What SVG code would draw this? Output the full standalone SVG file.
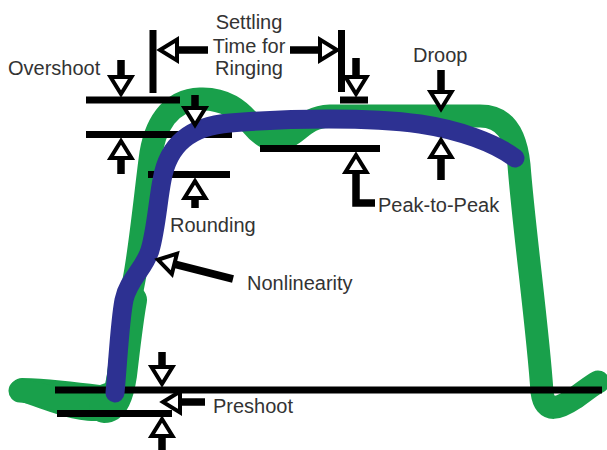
<svg xmlns="http://www.w3.org/2000/svg" xmlns:xlink="http://www.w3.org/1999/xlink" width="607" height="450" viewBox="0 0 607 450">
  <style>
    .lbl { font-family: "Liberation Sans", Arial, sans-serif; font-size: 20px; fill: #333; }
    .bar { stroke: #000; stroke-width: 7; fill: none; }
    .shaft { stroke: #000; stroke-width: 7.5; fill: none; }
    .head { fill: #fff; stroke: #000; stroke-width: 4; stroke-linejoin: miter; }
    .green { fill: none; stroke: #19a04b; stroke-width: 23; stroke-linecap: round; stroke-linejoin: round; }
    .green-fill { fill: #19a04b; stroke: none; }
    .blue { fill: none; stroke: #2d3192; stroke-width: 19; stroke-linecap: round; stroke-linejoin: round; }
  </style>
  <defs>
    <!-- open arrowhead, tip at origin, pointing down -->
    <polygon id="tri" points="0,-3 -10.5,-20 10.5,-20"/>
  </defs>
  <rect width="607" height="450" fill="#fff"/>

  <!-- ideal pulse trace -->
  <g id="ideal-pulse">
    <path class="green-fill" d="M 22,378 C 45,378 75,382 100,385 L 136,372 L 124,402 C 118,415 110,421 95,421 C 75,421 55,414 22,402 A 12,12 0 0 1 22,378 Z"/>
    <path class="green" d="M 20,391 C 45,392 75,408 100,408 C 112,408 116,395 118,380 C 122,350 128,310 134,280 C 140,250 146,190 150,160 C 154,125 170,100 200,99 C 225,98 240,110 252,125 C 262,137 270,142 285,138 C 300,132 305,117 330,116 L 480,116 C 505,116 516,135 519,165 C 524,230 538,330 542,392 C 545,415 560,408 575,398 C 585,391 592,385 598,382"/>
    <path class="green" style="stroke-width:30" d="M 104,408 C 114,408 119,395 122,375 C 125,350 128,322 132,300"/>
  </g>

  <!-- reference lines -->
  <g id="connectors">
    <line class="bar" x1="153" y1="30" x2="153" y2="93"/>
    <line class="bar" x1="341.5" y1="30" x2="341.5" y2="92"/>
    <line class="bar" x1="86" y1="100" x2="180" y2="100"/>
    <line class="bar" x1="86" y1="134.5" x2="232" y2="134.5"/>
    <line class="bar" x1="148" y1="174.5" x2="230" y2="174.5"/>
    <line class="bar" x1="340" y1="100" x2="368" y2="100"/>
    <line class="bar" x1="260" y1="148.5" x2="380" y2="148.5"/>
    <line class="bar" x1="55" y1="390" x2="602" y2="390"/>
    <line class="bar" x1="57" y1="413.5" x2="172" y2="413.5"/>
  </g>

  <!-- real pulse trace -->
  <g id="real-pulse">
    <path class="blue" d="M 115,393 C 118,360 120,320 124,300 C 128,280 145,268 150,250 C 156,230 158,200 162,180 C 168,145 190,126 230,123 C 290,118 370,117 420,124 C 460,130 495,143 515,158"/>
  </g>

  <!-- overshoot -->
  <g id="overshoot">
    <line class="shaft" x1="121" y1="60" x2="121" y2="78"/>
    <use xlink:href="#tri" class="head" transform="translate(121,97)"/>
    <line class="shaft" x1="121" y1="155" x2="121" y2="174"/>
    <use xlink:href="#tri" class="head" transform="translate(121,138) rotate(180)"/>
    <text class="lbl" x="8" y="75">Overshoot</text>
  </g>

  <!-- settling time -->
  <g id="settling">
    <line class="shaft" x1="173" y1="50" x2="208" y2="50"/>
    <use xlink:href="#tri" class="head" transform="translate(157,50) rotate(90)"/>
    <line class="shaft" x1="290" y1="50" x2="324" y2="50"/>
    <use xlink:href="#tri" class="head" transform="translate(340,50) rotate(-90)"/>
    <line class="shaft" x1="195" y1="95" x2="195" y2="112"/>
    <use xlink:href="#tri" class="head" transform="translate(195,128)"/>
    <line class="shaft" x1="356" y1="58" x2="356" y2="80"/>
    <use xlink:href="#tri" class="head" transform="translate(356,97)"/>
    <text class="lbl" text-anchor="middle" x="249" y="29">Settling</text>
    <text class="lbl" text-anchor="middle" x="249" y="52.5">Time for</text>
    <text class="lbl" text-anchor="middle" x="249" y="75">Ringing</text>
  </g>

  <!-- rounding -->
  <g id="rounding">
    <line class="shaft" x1="195" y1="192" x2="195" y2="208"/>
    <use xlink:href="#tri" class="head" transform="translate(195,178) rotate(180)"/>
    <text class="lbl" x="170" y="232">Rounding</text>
  </g>

  <!-- peak-to-peak -->
  <g id="peak-to-peak">
    <polyline class="shaft" points="356,168 356,203 375,203"/>
    <use xlink:href="#tri" class="head" transform="translate(356,152) rotate(180)"/>
    <text class="lbl" x="378" y="212">Peak-to-Peak</text>
  </g>

  <!-- droop -->
  <g id="droop">
    <line class="shaft" x1="441" y1="70" x2="441" y2="95"/>
    <use xlink:href="#tri" class="head" transform="translate(441,112)"/>
    <line class="shaft" x1="441" y1="154" x2="441" y2="180"/>
    <use xlink:href="#tri" class="head" transform="translate(441,137) rotate(180)"/>
    <text class="lbl" x="413" y="62">Droop</text>
  </g>

  <!-- nonlinearity -->
  <g id="nonlinearity">
    <line class="shaft" x1="170" y1="263" x2="233" y2="279"/>
    <use xlink:href="#tri" class="head" transform="translate(155,259) rotate(104)"/>
    <text class="lbl" x="247" y="290">Nonlinearity</text>
  </g>

  <!-- preshoot -->
  <g id="preshoot">
    <line class="shaft" x1="162" y1="352" x2="162" y2="370"/>
    <use xlink:href="#tri" class="head" transform="translate(162,387)"/>
    <line class="shaft" x1="162" y1="432" x2="162" y2="450"/>
    <use xlink:href="#tri" class="head" transform="translate(162,416) rotate(180)"/>
    <line class="shaft" x1="176" y1="402" x2="205" y2="402"/>
    <use xlink:href="#tri" class="head" transform="translate(160,402) rotate(90)"/>
    <text class="lbl" x="213" y="413">Preshoot</text>
  </g>
</svg>
